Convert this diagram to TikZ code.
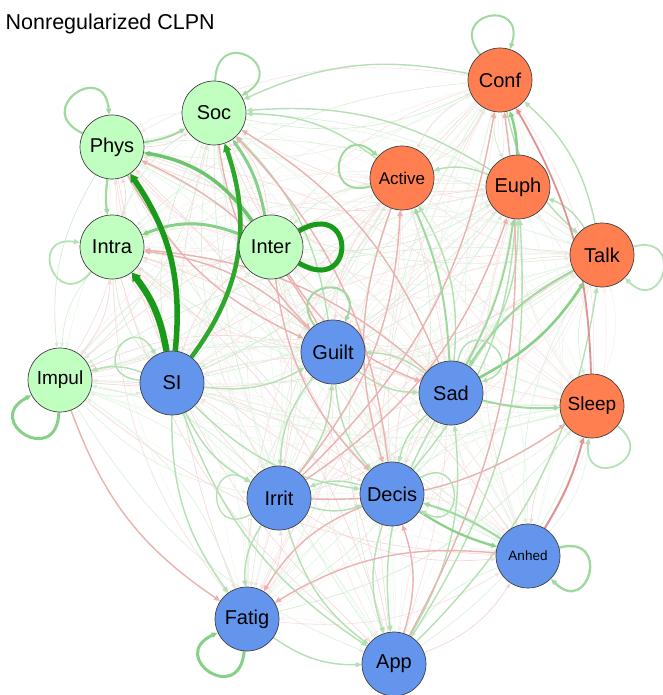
\documentclass[tikz,border=0pt]{standalone}
\usepackage{fontspec}
\setmainfont{Liberation Sans}
\usetikzlibrary{arrows.meta,backgrounds}
\definecolor{ngreen}{RGB}{193,255,193}
\definecolor{nblue}{RGB}{100,149,237}
\definecolor{norange}{RGB}{255,127,80}
\definecolor{gdark}{RGB}{25,155,25}
\definecolor{gdark2}{RGB}{45,168,45}
\definecolor{gmid}{RGB}{110,195,110}
\definecolor{gmid2}{RGB}{135,208,135}
\definecolor{glight}{RGB}{160,217,160}
\definecolor{gpale}{RGB}{180,225,180}
\definecolor{rmid}{RGB}{224,145,145}
\definecolor{rpale}{RGB}{236,178,178}
\definecolor{gbase}{RGB}{110,195,110}
\definecolor{rbase}{RGB}{220,120,120}
\colorlet{ecol}{gbase}
\def\nodelist{Conf,Soc,Phys,Active,Euph,Intra,Inter,Talk,Guilt,Impul,SI,Sad,Sleep,Irrit,Decis,Anhed,Fatig,App}
\begin{document}
\begin{tikzpicture}[x=1pt,y=1pt,
  vtx/.style={circle,draw=black!75,line width=0.7pt,minimum size=64pt,inner sep=0pt,text=black,font=\fontsize{20}{24}\selectfont},
  gn/.style={vtx,fill=ngreen}, bn/.style={vtx,fill=nblue}, on/.style={vtx,fill=norange},
  tip/.style={-{Triangle[length=6pt,width=5pt]}},
  faint/.style={draw=ecol,line width=0.7pt,-{Triangle[length=5pt,width=4pt]}},
  tg/.style={draw=gpale,line width=1.4pt,tip},
  tr/.style={draw=rpale,line width=1.4pt,tip},
  lp/.style={line width=#1,tip},
]
\useasboundingbox (0,0) rectangle (662,-695);
\node[anchor=base east,inner sep=0pt,font=\fontsize{21.5}{26}\selectfont] (title) at (215,-30) {Nonregularized CLPN};
% nodes
\node[on] (Conf) at (500,-80) {Conf};
\node[gn] (Soc) at (214,-113) {Soc};
\node[gn] (Phys) at (112,-147) {Phys};
\node[on,font=\fontsize{17}{20}\selectfont] (Active) at (402,-178) {Active};
\node[on] (Euph) at (518,-187) {Euph};
\node[gn] (Intra) at (112,-247) {Intra};
\node[gn] (Inter) at (271,-247) {Inter};
\node[on] (Talk) at (602,-255) {Talk};
\node[bn] (Guilt) at (333,-352) {Guilt};
\node[gn,font=\fontsize{19}{22}\selectfont] (Impul) at (60,-380) {Impul};
\node[bn] (SI) at (172,-383) {SI};
\node[bn] (Sad) at (451,-393) {Sad};
\node[on,font=\fontsize{19}{22}\selectfont] (Sleep) at (592,-406) {Sleep};
\node[bn] (Irrit) at (279,-498) {Irrit};
\node[bn] (Decis) at (392,-494) {Decis};
\node[bn,font=\fontsize{13.5}{16}\selectfont] (Anhed) at (528,-556) {Anhed};
\node[bn] (Fatig) at (247,-619) {Fatig};
\node[bn] (App) at (394,-664) {App};
\begin{pgfonlayer}{background}
% all faint edges
\pgfmathsetseed{7}
\foreach \a [count=\i] in \nodelist {
  \foreach \b [count=\j] in \nodelist {
    \ifnum\i=\j\else
      \pgfmathsetmacro\rr{rnd}
      \pgfmathtruncatemacro\kk{8+24*rnd}
      \ifdim\rr pt<0.38pt \colorlet{ecol}{rbase!\kk!white}\else\colorlet{ecol}{gbase!\kk!white}\fi
      \draw[faint] (\a) to[bend right=18] (\b);
    \fi
  }
}
% second tier green
\foreach \a/\b in {SI/Impul,SI/Guilt,SI/Irrit,SI/Decis,SI/App,Guilt/Irrit,Guilt/Decis,Irrit/Decis,Decis/Irrit,App/Sad,App/Euph,Irrit/Fatig,Sad/Decis,Sad/Guilt,Sad/Active,Sad/Euph,Conf/Talk,Talk/Euph,Euph/Soc,Conf/Soc,Active/Soc,Guilt/Soc,Fatig/App,App/Talk,Sad/App,Decis/App,Irrit/App,Guilt/Sad,Euph/Active,Talk/Conf,Decis/Euph,Irrit/Guilt,SI/Fatig}
  {\draw[tg] (\a) to[bend right=18] (\b);}
% second tier red
\foreach \a/\b in {Guilt/Phys,Guilt/Intra,Sad/Intra,Decis/Soc,Sad/Soc,Irrit/Active,Irrit/Euph,Irrit/Conf,App/Decis,Anhed/Fatig,Decis/Fatig,Active/Decis,Inter/Decis,Soc/Guilt,Phys/Guilt,Impul/Fatig,Inter/Sad,Irrit/Sleep,App/Conf}
  {\draw[tr] (\a) to[bend right=18] (\b);}
% medium edges
\draw[draw=rmid,line width=2pt,tip] (Anhed) to[bend right=8] (Sleep);
\draw[draw=rmid,line width=1.8pt,tip] (Sleep) to[bend right=14] (Conf);
\draw[draw=glight,line width=2.2pt,tip] (Phys) to[bend right=8] (Intra);
\draw[draw=glight,line width=2pt,tip] (Phys) to[bend right=10] (Soc);
\draw[draw=gmid2,line width=2.6pt,tip] (Sad) to[bend right=14] (Talk);
\draw[draw=glight,line width=2pt,tip] (Talk) to[bend right=14] (Sad);
\draw[draw=glight,line width=2pt,tip] (Sad) to[bend right=8] (Sleep);
\draw[draw=gmid2,line width=2.2pt,tip] (Decis) to[bend right=8] (Anhed);
\draw[draw=glight,line width=2pt,tip] (Anhed) to[bend right=8] (Decis);
\draw[draw=gmid2,line width=2.5pt,tip] (Euph) to[bend right=8] (Conf);
\draw[draw=glight,line width=2pt,tip] (Sad) to[bend right=10] (Euph);
\draw[draw=glight,line width=2pt,tip] (Sad) to[bend right=10] (Active);
% strong edges
\draw[draw=gmid2,line width=3pt,tip] (Inter) to[bend right=12] (Soc);
\draw[draw=gmid2,line width=3pt,tip] (Inter) to[bend right=22] (Intra);
\draw[draw=gmid,line width=3.5pt,tip] (Inter) to[bend right=22] (Phys);
\draw[draw=gdark2,line width=4.5pt,-{Triangle[length=8pt,width=8pt]}] (SI) to[bend right=28] (Soc);
\draw[draw=gdark,line width=5.5pt,-{Triangle[length=8pt,width=9pt]}] (SI) to[bend right=20] (Phys);
\draw[draw=gdark,line width=6.5pt,-{Triangle[length=8pt,width=10pt]}] (SI) to[bend right=14] (Intra);
% self loops
\draw[draw=glight,lp=2.2pt] (Phys.155) .. controls +(155:56) and +(95:56) .. (Phys.95);
\draw[draw=glight,lp=2pt] (Soc.88) .. controls +(88:56) and +(32:56) .. (Soc.32);
\draw[draw=glight,lp=2pt] (Conf.128) .. controls +(128:54) and +(72:54) .. (Conf.72);
\draw[draw=glight,lp=2pt] (Active.195) .. controls +(195:54) and +(138:54) .. (Active.138);
\draw[draw=gpale,lp=1.8pt] (Intra.230) .. controls +(230:54) and +(172:54) .. (Intra.172);
\draw[draw=gdark,line width=5pt] (Inter.30) .. controls +(30:66) and +(-30:66) .. (Inter.-30);
\draw[draw=gmid2,lp=3pt] (Impul.268) .. controls +(268:56) and +(208:56) .. (Impul.208);
\draw[draw=gpale,lp=1.5pt] (SI.175) .. controls +(175:52) and +(120:52) .. (SI.120);
\draw[draw=glight,lp=2pt] (Guilt.125) .. controls +(125:54) and +(68:54) .. (Guilt.68);
\draw[draw=gpale,lp=1.5pt] (Sad.78) .. controls +(78:52) and +(20:52) .. (Sad.20);
\draw[draw=gpale,lp=1.8pt] (Talk.15) .. controls +(15:54) and +(-45:54) .. (Talk.-45);
\draw[draw=gpale,lp=1.8pt] (Sleep.-38) .. controls +(-38:54) and +(-96:54) .. (Sleep.-96);
\draw[draw=gpale,lp=1.5pt] (Decis.30) .. controls +(30:52) and +(-30:52) .. (Decis.-30);
\draw[draw=glight,lp=2.4pt] (Anhed.15) .. controls +(15:54) and +(-45:54) .. (Anhed.-45);
\draw[draw=gmid2,lp=3pt] (Fatig.265) .. controls +(265:56) and +(205:56) .. (Fatig.205);
\draw[draw=gpale,lp=1.3pt] (Irrit.210) .. controls +(210:52) and +(150:52) .. (Irrit.150);
\end{pgfonlayer}
\end{tikzpicture}
\end{document}
